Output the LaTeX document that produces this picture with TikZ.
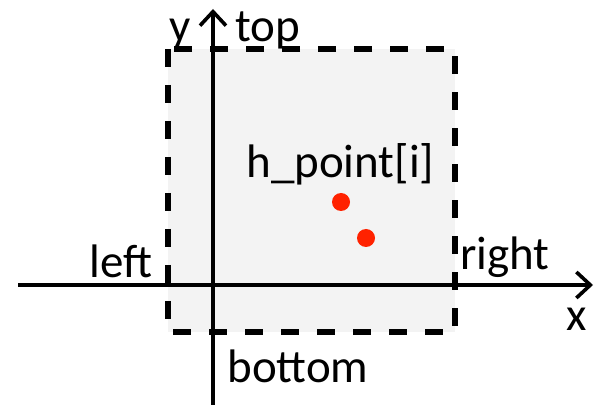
\documentclass[tikz,border=0pt]{standalone}
\usepackage{fontspec}
\setmainfont{Carlito}
\usetikzlibrary{positioning,arrows.meta}
\definecolor{boxGris}{HTML}{F3F3F3}
\definecolor{puntoRojo}{HTML}{FF2200}
\tikzset{
  eje/.style={line width=1.6pt, -{Straight Barb[length=7pt,width=13pt,line width=1.8pt]}},
  etiqueta/.style={inner sep=0pt, anchor=base west, font=\fontsize{23.5}{28}\selectfont},
  punto/.style={circle, fill=puntoRojo, inner sep=0pt, minimum size=9pt},
}
\begin{document}
\begin{tikzpicture}[x=0.5pt, y=-0.5pt]
    \useasboundingbox (0,0) rectangle (599,405);

    % Region
    \filldraw[fill=boxGris, draw=black, line width=2.6pt, dash pattern=on 9pt off 9pt] (168,49) rectangle (455,332);

    % Ejes
    \coordinate (xIni) at (18,285);
    \coordinate (xFin) at (593,285);
    \coordinate (yIni) at (213,405);
    \coordinate (yFin) at (213,9);
    \draw[eje] (xIni) -- (xFin);
    \draw[eje] (yIni) -- (yFin);

    % Puntos
    \node[punto] (p1) at (341,202) {};
    \node[punto] (p2) at (366,238) {};

    % Etiquetas
    \node[etiqueta] (labY) at (169,42) {y};
    \node[etiqueta] (labTop) at (235,42) {top};
    \node[etiqueta] (labLeft) at (89,278) {left};
    \node[etiqueta] (labRight) at (460,270) {right};
    \node[etiqueta] (labX) at (566,330) {x};
    \node[etiqueta] (labBottom) at (227,382) {bottom};
    \node[etiqueta] (labPoint) at (246,178) {h\_point[i]};
\end{tikzpicture}
\end{document}
